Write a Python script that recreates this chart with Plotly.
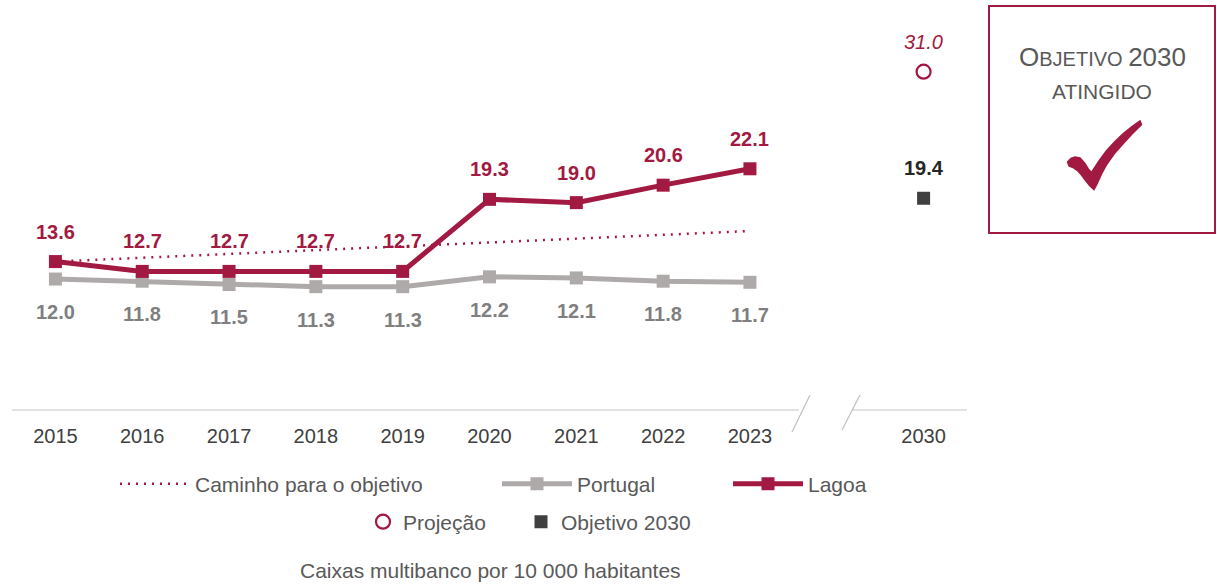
import plotly.graph_objects as go

# ---------------- data ----------------
years = ["2015", "2016", "2017", "2018", "2019", "2020", "2021", "2022", "2023"]
goal_year = "2030"
lagoa = [13.6, 12.7, 12.7, 12.7, 12.7, 19.3, 19.0, 20.6, 22.1]
portugal = [12.0, 11.8, 11.5, 11.3, 11.3, 12.2, 12.1, 11.8, 11.7]
path_years = ["2015", "2023"]
path_values = [13.6, 16.4]
projection_2030 = [31.0]
objective_2030 = [19.4]

# ---------------- style ----------------
CRIMSON = "#A21942"
GRAY_LINE = "#AEAAAA"
GRAY_LABEL = "#7F7F7F"
DARK = "#404040"
TEXT = "#595959"
FONT = "Liberation Sans, Arial, sans-serif"

W, H = 1217, 584
L, R, T, B = 12, 250, 28, 174


def px(x):
    return (x - L) / (W - L - R)


def py(y):
    return (H - B - y) / (H - T - B)


cat_pos = {y: i for i, y in enumerate(years)}
cat_pos[goal_year] = len(years) + 1

x_years = [cat_pos[y] for y in years]
x_path = [cat_pos[y] for y in path_years]
x_goal = [cat_pos[goal_year]]

fig = go.Figure()

fig.add_trace(go.Scatter(
    x=x_path, y=path_values, mode="lines", name="Caminho para o objetivo",
    line=dict(color=CRIMSON, width=2.5, dash="2px,6px"), legend="legend",
    hoverinfo="skip"))
fig.add_trace(go.Scatter(
    x=x_years, y=portugal, mode="lines+markers", name="Portugal",
    line=dict(color=GRAY_LINE, width=5),
    marker=dict(symbol="square", size=13, color=GRAY_LINE), legend="legend2"))
fig.add_trace(go.Scatter(
    x=x_years, y=lagoa, mode="lines+markers", name="Lagoa",
    line=dict(color=CRIMSON, width=5),
    marker=dict(symbol="square", size=13, color=CRIMSON), legend="legend3"))
fig.add_trace(go.Scatter(
    x=x_goal, y=projection_2030, mode="markers", name="Projeção",
    marker=dict(symbol="circle-open", size=14, color=CRIMSON, line=dict(width=2.2)),
    legend="legend4"))
fig.add_trace(go.Scatter(
    x=x_goal, y=objective_2030, mode="markers", name="Objetivo 2030",
    marker=dict(symbol="square", size=13, color=DARK), legend="legend5"))

annotations = []
for xv, v in zip(x_years, lagoa):
    annotations.append(dict(x=xv, y=v, text=f"{v:.1f}", showarrow=False, yshift=30,
                            font=dict(family=FONT, size=20, color=CRIMSON, weight="bold")))
for xv, v in zip(x_years, portugal):
    annotations.append(dict(x=xv, y=v, text=f"{v:.1f}", showarrow=False, yshift=-33,
                            font=dict(family=FONT, size=20, color=GRAY_LABEL, weight="bold")))
annotations.append(dict(x=x_goal[0], y=projection_2030[0], text=f"{projection_2030[0]:.1f}",
                        showarrow=False, yshift=30,
                        font=dict(family=FONT, size=20, color=CRIMSON, style="italic")))
annotations.append(dict(x=x_goal[0], y=objective_2030[0], text=f"{objective_2030[0]:.1f}",
                        showarrow=False, yshift=30,
                        font=dict(family=FONT, size=20, color="#262626", weight="bold")))

# caption
annotations.append(dict(xref="paper", yref="paper", x=px(490), y=py(584),
                        xanchor="center", yanchor="bottom", showarrow=False,
                        text="Caixas multibanco por 10 000 habitantes",
                        font=dict(family=FONT, size=21, color=TEXT)))
# box texts
annotations.append(dict(xref="paper", yref="paper", x=px(1102), y=py(57),
                        xanchor="center", yanchor="middle", showarrow=False,
                        text='<span style="font-size:26px">O</span>BJETIVO <span style="font-size:26px">2030</span>',
                        font=dict(family=FONT, size=20, color=TEXT)))
annotations.append(dict(xref="paper", yref="paper", x=px(1102), y=py(91),
                        xanchor="center", yanchor="middle", showarrow=False,
                        text="ATINGIDO", font=dict(family=FONT, size=21, color=TEXT)))

# check mark outline (pixel points in the reference)
check_pts = [(1067.5, 162), (1071, 158.5), (1075, 157), (1080, 158), (1084.5, 163),
             (1088.3, 169), (1091.5, 172.5), (1099, 161), (1106.7, 150.5), (1115, 141.5),
             (1123.3, 133.5), (1132, 126.5), (1140, 121), (1141.5, 124.5), (1132, 134),
             (1123.3, 143.5), (1114, 154), (1107, 164), (1101.5, 174), (1097, 184),
             (1094, 189.5), (1090, 186), (1086, 181), (1081.5, 175), (1077.5, 170.5),
             (1073, 167.5), (1069, 166)]
check_path = "M " + " L ".join(f"{px(a):.5f},{py(b):.5f}" for a, b in check_pts) + " Z"

AX = "#D9D9D9"
SL = "#BFBFBF"
shapes = [
    dict(type="line", xref="paper", yref="paper", x0=px(12), x1=px(799), y0=py(410), y1=py(410),
         line=dict(color=AX, width=1.5)),
    dict(type="line", xref="paper", yref="paper", x0=px(853), x1=px(967), y0=py(410), y1=py(410),
         line=dict(color=AX, width=1.5)),
    dict(type="line", xref="paper", yref="paper", x0=px(810), x1=px(792), y0=py(395), y1=py(432),
         line=dict(color=SL, width=1.2)),
    dict(type="line", xref="paper", yref="paper", x0=px(860), x1=px(842), y0=py(395), y1=py(430),
         line=dict(color=SL, width=1.2)),
    dict(type="rect", xref="paper", yref="paper", x0=px(989), x1=px(1215), y0=py(233), y1=py(6),
         line=dict(color=CRIMSON, width=2), fillcolor="rgba(0,0,0,0)"),
    dict(type="path", xref="paper", yref="paper", path=check_path,
         fillcolor=CRIMSON, line=dict(color=CRIMSON, width=1.5)),
]

leg_common = dict(orientation="h", bgcolor="rgba(0,0,0,0)", borderwidth=0,
                  font=dict(family=FONT, size=21, color=TEXT), yanchor="middle", xanchor="left")

fig.update_layout(
    width=W, height=H,
    margin=dict(l=L, r=R, t=T, b=B),
    paper_bgcolor="white", plot_bgcolor="white",
    font=dict(family=FONT),
    showlegend=True,
    xaxis=dict(range=[-0.5, 10.5], tickvals=x_years + x_goal, ticktext=years + [goal_year],
               showline=False, showgrid=False, zeroline=False,
               ticks="outside", ticklen=8, tickcolor="rgba(0,0,0,0)",
               tickfont=dict(family=FONT, size=20, color=DARK), fixedrange=True),
    yaxis=dict(range=[0, 35], visible=False, fixedrange=True),
    legend=dict(x=px(115), y=py(484), itemwidth=70, **leg_common),
    legend2=dict(x=px(497), y=py(484), itemwidth=70, **leg_common),
    legend3=dict(x=px(728), y=py(484), itemwidth=70, **leg_common),
    legend4=dict(x=px(363), y=py(522), **leg_common),
    legend5=dict(x=px(521), y=py(522), **leg_common),
    annotations=annotations,
    shapes=shapes,
)

fig.write_html("out.html", config={"displayModeBar": False},
               post_script="document.body.style.margin='0px';document.body.style.overflow='hidden';")
